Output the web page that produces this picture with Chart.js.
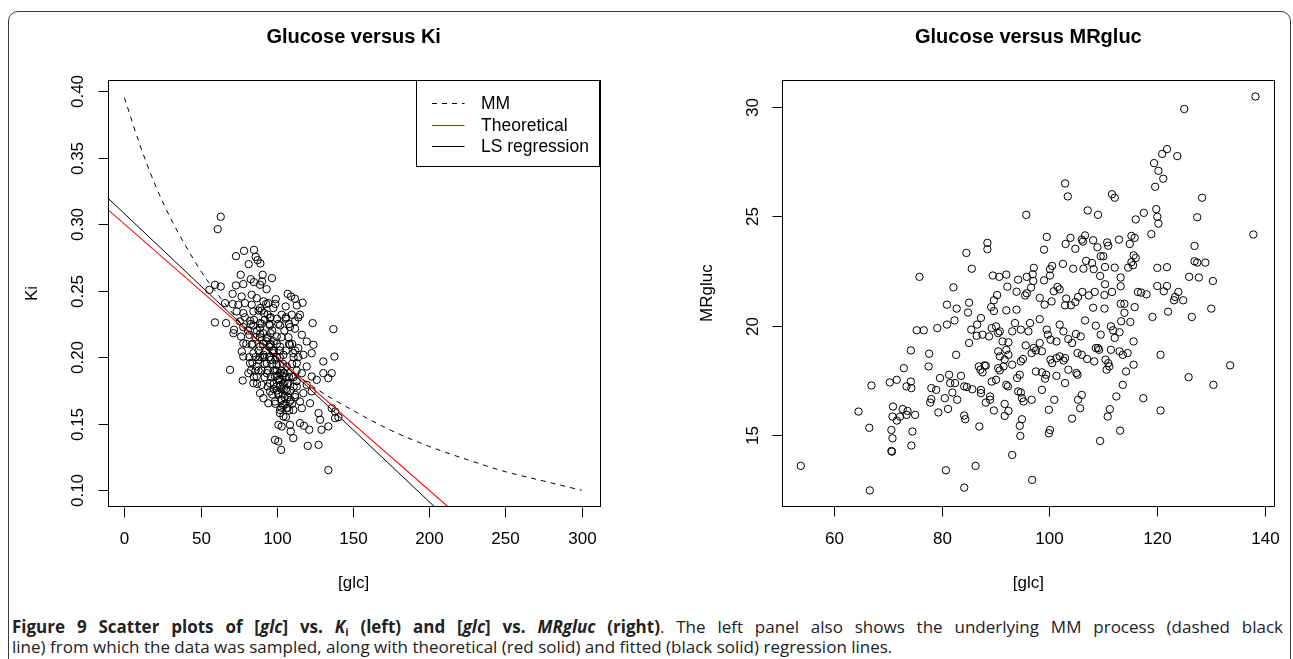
<!DOCTYPE html>
<html><head><meta charset="utf-8">
<script src="https://cdn.jsdelivr.net/npm/chart.js@4/dist/chart.umd.min.js"></script>
<style>
html,body{margin:0;padding:0;background:#fff;width:1293px;height:659px;overflow:hidden;position:relative;}
#frame{position:absolute;left:8px;top:11px;width:1281px;height:720px;border:1.5px solid #3a3a3a;border-radius:10px;}
#c1{position:absolute;left:0;top:0;}
#c2{position:absolute;left:640px;top:0;}
.cap{position:absolute;left:12px;width:1271px;font-family:'Open Sans',sans-serif;font-size:17px;line-height:20px;height:20px;color:#222;white-space:nowrap;}
#cap1{top:617px;text-align:justify;text-align-last:justify;white-space:normal;}
#cap2{top:637px;}
.cap b{font-weight:700;}
.cap sub{font-size:11px;line-height:0;vertical-align:-3px;}
</style></head><body>
<div id="frame"></div>
<canvas id="c1" width="640" height="612"></canvas>
<canvas id="c2" width="653" height="612"></canvas>
<div class="cap" id="cap1"><b>Figure 9 Scatter plots of [<i>glc</i>] vs. <i>K</i><sub>i</sub> (left) and [<i>glc</i>] vs. <i>MRgluc</i> (right)</b>. The left panel also shows the underlying MM process (dashed black</div>
<div class="cap" id="cap2">line) from which the data was sampled, along with theoretical (red solid) and fitted (black solid) regression lines.</div>
<script>
// ---------- DATA ----------
const leftTitle = 'Glucose versus Ki';
const rightTitle = 'Glucose versus MRgluc';
const xAxisTitle = '[glc]';
const leftYTitle = 'Ki';
const rightYTitle = 'MRgluc';

const leftXTicks = [0, 50, 100, 150, 200, 250, 300];
const leftYTicks = [0.10, 0.15, 0.20, 0.25, 0.30, 0.35, 0.40];
const leftYTickLabels = ['0.10', '0.15', '0.20', '0.25', '0.30', '0.35', '0.40'];
const rightXTicks = [60, 80, 100, 120, 140];
const rightYTicks = [15, 20, 25, 30];

const legendLabels = ['MM', 'Theoretical', 'LS regression'];

// MM process curve
const mmGlc = [0, 10, 20, 30, 40, 50, 60, 80, 100, 125, 150, 175, 200, 225, 250, 275, 300];
const mmKi  = [0.395, 0.360, 0.330, 0.305, 0.284, 0.265, 0.249, 0.221, 0.199, 0.177, 0.160, 0.145, 0.133, 0.123, 0.114, 0.107, 0.100];

// Theoretical (red) and LS regression (black) lines, end points across the panel
const theoGlc = [-12, 312];
const theoKi  = [0.312, -0.012];
const lsGlc   = [-12, 312];
const lsKi    = [0.3208, -0.0298];

// Scatter: [glc, Ki]
const leftPoints = [
[63.2,0.3055],[61.2,0.2962],[78.5,0.2799],[85.0,0.2806],[73.2,0.2759],[86.1,0.2754],[87.4,0.2729],[81.5,0.2699],[89.2,0.2704],
[76.3,0.2619],[90.7,0.2619],[96.8,0.2594],[82.9,0.2586],[85.0,0.2564],[90.3,0.2569],[89.0,0.2544],[73.2,0.2539],[78.0,0.2549],
[59.4,0.2544],[63.2,0.2531],[55.7,0.2506],[93.3,0.2511],[71.0,0.2476],[76.9,0.2456],[83.5,0.2469],[86.8,0.2444],[107.1,0.2476],
[109.3,0.2456],[111.9,0.2439],[99.3,0.2436],[91.2,0.2419],[94.4,0.2406],[116.9,0.2409],[66.0,0.2406],[71.0,0.2399],[74.8,0.2394],
[79.1,0.2406],[83.5,0.2394],[89.0,0.2369],[97.7,0.2369],[105.8,0.2381],[113.1,0.2389],[73.7,0.2344],[78.0,0.2331],[84.6,0.2344],
[91.6,0.2331],[103.2,0.2319],[109.8,0.2319],[115.2,0.2319],[100.1,0.2289],[95.5,0.2294],[105.8,0.2289],[111.9,0.2269],[114.1,0.2299],
[59.4,0.2261],[66.7,0.2256],[75.8,0.2269],[82.4,0.2274],[89.0,0.2256],[123.5,0.2256],[137.1,0.2211],[71.9,0.2206],[78.0,0.2226],
[84.6,0.2239],[95.5,0.2239],[102.1,0.2239],[108.6,0.2226],[111.9,0.2214],
[71.5,0.2180],[76.5,0.2155],[82.0,0.2168],[89.0,0.2175],[93.4,0.2143],[99.9,0.2155],[107.6,0.2150],[116.4,0.2168],[119.6,0.2118],
[124.0,0.2093],[78.0,0.2105],[83.5,0.2093],[89.0,0.2080],[95.5,0.2093],[102.1,0.2080],[108.6,0.2093],[114.1,0.2068],[77.0,0.2043],
[78.0,0.2005],[84.6,0.2030],[91.2,0.2018],[97.7,0.2030],[104.3,0.2018],[110.8,0.2030],[117.4,0.2018],[122.9,0.2030],[137.8,0.2005],
[130.5,0.1968],[69.3,0.1905],[77.6,0.1825],[82.4,0.1955],[86.8,0.1930],[93.4,0.1955],[99.9,0.1943],[106.5,0.1930],[113.1,0.1955],
[119.6,0.1930],[81.3,0.1880],[86.8,0.1855],[93.4,0.1880],[98.8,0.1855],[104.3,0.1880],[109.8,0.1855],[116.4,0.1880],[122.9,0.1855],
[126.2,0.1830],[130.5,0.1880],[136.0,0.1880],[133.8,0.1843],[84.6,0.1805],[90.1,0.1792],[95.5,0.1805],[102.1,0.1792],[107.6,0.1805],
[113.1,0.1780],[119.6,0.1792],[89.0,0.1730],[95.5,0.1743],[101.0,0.1730],[106.5,0.1743],[112.0,0.1717],[117.4,0.1730],[122.9,0.1743],
[91.2,0.1692],[94.4,0.1654],[98.8,0.1667],[103.2,0.1680],[108.6,0.1667],[115.2,0.1667],[121.8,0.1654],[102.1,0.1604],[106.5,0.1617],
[110.8,0.1604],[116.4,0.1617],[136.0,0.1617],[138.2,0.1592],[140.4,0.1549],[138.2,0.1542],[127.4,0.1580],[128.4,0.1530],[104.3,0.1555],
[101.0,0.1492],[103.2,0.1480],[108.6,0.1492],[115.2,0.1505],[117.8,0.1485],[121.3,0.1455],[129.3,0.1455],[133.8,0.1480],[109.1,0.1442],
[110.8,0.1392],[98.8,0.1379],[101.0,0.1367],[102.8,0.1304],[120.3,0.1334],[127.4,0.1342],[133.8,0.1152],
[100,0.175],[102,0.178],[104,0.172],[105,0.181],[103,0.168],[101,0.183],[106,0.176],[104,0.186],[99,0.19],[97,0.195],[95,0.2],
[93,0.205],[91,0.21],[89,0.215],[87,0.22],[92,0.195],[96,0.185],[98,0.205],[100,0.21],[94,0.215],[90,0.225],[88,0.19],[86,0.2],
[84,0.21],[83,0.19],[85,0.185],[95,0.225],[97,0.22],[102,0.2],[104,0.195],[106,0.205],[108,0.185],[110,0.195],[107,0.17],[109,0.175],
[103,0.162],[105,0.165],[99,0.165],[97,0.172],[94,0.178],[92,0.185],[91,0.2],[88,0.205],[86,0.215],[90,0.235],[93,0.24],[96,0.23],
[99,0.24],[101,0.225],[103,0.215],[105,0.22],[108,0.21],[111,0.2],[113,0.19],[111,0.185],[112,0.17],[110,0.165],[108,0.16],[106,0.155],
[98,0.18],[100,0.19],[102,0.188],[96,0.21],[94,0.19],[89,0.2],[87,0.18],[82,0.2],[80,0.21],[81,0.22],[79,0.23],
[101,0.172],[103,0.176],[105,0.17],[104,0.18],[102,0.183],[106,0.185],[100,0.186],[98,0.176],[105,0.188],[107,0.18],[103,0.19],
[99,0.198],[97,0.205],[95,0.208],[93,0.212],[91,0.218],[89,0.222],[92,0.228],[94,0.232],[96,0.218],[98,0.212],[100,0.2],[102,0.205],
[88,0.198],[86,0.19],[84,0.196],[90,0.19],[92,0.2],[96,0.198],[98,0.19],[100,0.178],[104,0.164],[102,0.158],[107,0.162],[109,0.168],
[111,0.178],[113,0.182],[112,0.205],[110,0.21],[114,0.2],[108,0.225],[106,0.23],[88,0.235],[85,0.228],[83,0.225]
];

// Scatter: [glc, MRgluc]
const rightPoints = [
[138.2,30.46],[125.0,29.89],[121.8,28.06],[120.9,27.84],[123.7,27.74],[119.4,27.42],[120.2,27.07],[121.1,26.71],[119.6,26.34],
[102.9,26.49],[103.4,25.90],[111.6,26.0],[112.1,25.84],[128.3,25.84],[95.7,25.06],[107.1,25.26],[109.0,25.06],[117.5,25.15],
[116.0,24.85],[119.8,25.32],[120.0,24.97],[120.2,24.66],[127.4,24.95],[118.9,24.18],[137.8,24.16],[99.5,24.05],[103.9,24.01],
[103.0,23.73],[104.8,23.51],[106.0,23.93],[106.6,24.12],[106.2,23.84],[108.1,23.9],[108.9,23.58],[110.7,23.8],[110.9,23.65],
[112.9,23.93],[115.2,24.1],[115.8,24.01],[114.9,23.73],[88.5,23.78],[88.5,23.49],[99.0,23.47],[84.6,23.32],[126.9,23.64],
[109.5,23.17],[110.0,23.17],[115.6,23.21],[116.0,23.09],[115.2,22.9],[115.5,22.76],[106.8,22.96],[107.9,22.86],[102.5,22.82],
[104.4,22.6],[100.5,22.73],[100.1,22.58],[97.1,22.64],[106.3,22.6],[108.2,22.58],[110.3,22.68],[112.1,22.65],[114.6,22.65],
[120.0,22.64],[121.8,22.67],[126.9,22.94],[127.4,22.88],[128.9,22.88],[85.6,22.6],[89.5,22.29],[90.7,22.23],[92.0,22.33],
[96.9,22.35],[95.8,22.23],[100.1,22.29],[99.0,22.07],[94.2,22.1],[109.4,22.27],[113.2,22.2],[125.9,22.23],[127.7,22.2],[130.3,22.04],
[75.9,22.23],[82.2,21.75],[92.2,21.78],[93.9,21.55],[96.6,21.74],[97.0,22.04],[100.8,21.57],[101.5,21.77],[101.9,21.66],[110.3,21.89],
[111.6,21.54],[113.2,21.8],[116.4,21.54],[117.0,21.51],[118.0,21.43],[120.0,21.81],[121.8,21.81],[121.2,21.57],[123.9,21.54],
[123.3,21.31],[123.1,21.16],[124.8,21.16],[122.0,20.64],[90.3,21.4],[89.7,21.16],[95.8,21.48],[95.5,21.38],[98.2,21.27],[103.1,21.24],
[105.3,21.31],[106.1,21.54],[107.3,21.38],[108.4,21.54],[110.2,21.4],[81.0,20.96],[85.1,21.05],[82.8,20.78],[84.9,20.6],[89.2,20.85],
[89.7,20.67],[92.0,20.7],[93.9,20.73],[99.1,20.96],[100.4,21.11],[102.9,20.93],[104.0,20.93],[104.8,21.08],[108.1,20.82],[110.2,20.78],
[113.2,21.0],[113.9,21.0],[113.9,20.59],[115.8,20.85],[130.0,20.78],
[119.1,20.40],[126.4,20.4],[75.4,19.79],[76.7,19.79],[79.2,19.89],[81.0,20.05],[82.4,20.24],[86.6,20.05],[87.3,20.35],[85.5,19.82],
[85.1,19.21],[86.5,19.54],[87.6,19.59],[88.8,19.51],[89.3,19.89],[90.1,19.97],[90.5,19.66],[90.8,19.74],[91.3,19.28],[92.4,19.24],
[93.1,19.74],[93.6,20.12],[94.7,19.82],[96.1,19.74],[96.4,20.12],[98.2,20.3],[99.5,19.82],[99.7,19.59],[100.2,19.36],[101.3,19.28],
[101.9,20.05],[102.6,19.74],[103.5,19.39],[104.2,19.21],[104.9,19.62],[105.8,19.51],[106.6,20.24],[108.6,20.0],[109.5,19.59],
[108.6,18.98],[109.0,18.98],[111.4,19.97],[111.8,19.79],[112.1,19.44],[113.0,19.7],[113.3,20.2],[115.0,20.17],[115.6,19.28],
[120.6,18.67],[74.3,18.87],[77.7,18.72],[82.7,18.67],[73.0,18.06],[77.6,18.14],[67.0,17.27],[70.4,17.41],[71.7,17.53],[74.3,17.45],
[73.5,17.23],[74.4,17.15],[79.7,17.61],[81.4,17.76],[78.1,17.15],[79.0,17.07],[78.1,16.65],[77.9,16.49],[80.6,16.69],[82.0,16.95],
[82.9,16.62],[84.2,17.23],[84.7,17.2],[85.7,17.1],[83.6,17.71],[81.6,17.38],[82.5,17.38],[87.2,17.99],[87.6,17.87],[88.0,18.19],
[88.2,18.17],[86.9,18.14],[87.3,17.07],[87.3,16.92],[89.0,16.77],[89.0,16.62],[88.2,16.49],[89.3,17.45],[90.1,17.53],[90.5,18.06],
[90.8,17.96],[91.5,18.14],[91.7,18.45],[90.5,18.83],[90.8,18.6],[92.0,18.9],[92.4,18.67],[93.1,18.22],[94.0,17.61],[94.5,17.76],
[92.0,17.3],[92.3,17.23],[91.7,16.43],[92.4,16.11],[91.7,15.88],[89.7,16.13],[94.2,17.0],[94.7,16.95],[94.9,16.69],[95.2,16.54],
[96.7,16.62],[94.5,15.43],[94.6,14.97],[94.9,15.73],[93.1,14.1],[96.8,12.96],[94.7,18.37],[95.1,18.48],[95.6,19.1],[96.7,18.75],
[97.5,18.87],[97.1,18.98],[98.2,19.21],[98.6,18.83],[97.5,17.91],[98.6,17.87],[99.4,17.76],[99.2,17.58],[98.6,17.07],[100.2,18.45],
[100.5,18.29],[101.3,18.52],[101.9,18.6],[102.6,18.41],[102.9,18.52],[103.5,17.99],[101.3,17.71],[102.9,17.38],[100.9,16.62],
[99.9,16.16],[100.1,15.24],[99.9,15.09],[104.2,15.76],[105.2,18.75],[106.0,18.67],[107.0,18.48],[105.0,17.84],[105.2,17.76],
[106.0,16.84],[105.3,16.62],[105.7,16.23],[108.3,18.37],[109.2,18.9],[110.4,18.45],[110.9,18.29],[110.6,17.99],[111.1,18.14],
[111.4,18.9],[113.0,18.83],[113.6,18.67],[114.5,18.75],[115.6,18.22],[114.2,17.91],[113.6,17.3],[112.4,16.77],[111.2,16.19],
[110.8,15.85],[113.1,15.21],[109.4,14.74],[117.4,16.69],[120.6,16.13],[125.8,17.65],[130.4,17.3],[133.5,18.19],[64.6,16.08],
[66.6,15.34],[66.7,12.48],[53.9,13.6],[71.0,16.31],[70.9,15.85],[70.7,15.24],[70.9,14.86],[70.7,14.28],[70.8,14.25],[71.7,15.67],
[72.3,15.85],[72.8,16.19],[73.7,16.11],[73.5,15.93],[75.1,15.93],[74.6,15.17],[74.4,14.53],[79.4,16.04],[81.2,16.2],[80.8,13.4],
[84.2,15.9],[84.4,15.73],[84.2,12.61],[86.3,13.6],[87.0,15.4]
];

// ---------- RENDERING ----------
Chart.defaults.font.family = '"Liberation Sans", Arial, sans-serif';
const RFONT = '"Liberation Sans", Arial, sans-serif';

const rStyle = {
  id: 'rStyle',
  afterDraw(chart, args, o) {
    const ctx = chart.ctx, a = chart.chartArea;
    const xs = chart.scales.x, ys = chart.scales.y;
    ctx.save();
    ctx.strokeStyle = '#000';
    ctx.fillStyle = '#000';
    ctx.lineWidth = 1;
    // legend (left panel)
    if (o.legend) {
      const L = o.legend;
      ctx.fillStyle = '#fff';
      ctx.fillRect(L.left, a.top, a.right - L.left, L.bottom - a.top);
      ctx.strokeStyle = '#000';
      ctx.strokeRect(Math.round(L.left) + 0.5, Math.round(a.top) + 0.5, Math.round(a.right - L.left), Math.round(L.bottom - a.top));
      ctx.font = '17.5px ' + RFONT;
      ctx.textAlign = 'left';
      ctx.textBaseline = 'middle';
      L.items.forEach((it, i) => {
        const ds = chart.data.datasets.find(d => d.label === it);
        const y = Math.round(L.rows[i]) + 0.5;
        ctx.strokeStyle = L.colors[i];
        ctx.lineWidth = ds.borderWidth || 1;
        ctx.setLineDash(ds.borderDash || []);
        ctx.beginPath(); ctx.moveTo(L.lineFrom, y); ctx.lineTo(L.lineTo, y); ctx.stroke();
        ctx.setLineDash([]);
        ctx.fillStyle = '#000';
        ctx.fillText(it, L.textX, y + 1);
      });
      ctx.strokeStyle = '#000';
      ctx.lineWidth = 1;
    }
    // plot box
    ctx.strokeRect(Math.round(a.left) + 0.5, Math.round(a.top) + 0.5, Math.round(a.right - a.left), Math.round(a.bottom - a.top));
    ctx.fillStyle = '#000';
    ctx.font = '17px ' + RFONT;
    // x axis ticks + labels
    ctx.textAlign = 'center'; ctx.textBaseline = 'middle';
    const xp = o.xTicks.map(v => Math.round(xs.getPixelForValue(v)) + 0.5);
    const by = Math.round(a.bottom) + 0.5;
    xp.forEach((px, i) => {
      ctx.beginPath(); ctx.moveTo(px, by); ctx.lineTo(px, by + 10); ctx.stroke();
      ctx.fillText(o.xLabels[i], px, a.bottom + 33);
    });
    // y axis ticks + rotated labels
    const yp = o.yTicks.map(v => Math.round(ys.getPixelForValue(v)) + 0.5);
    const lx = Math.round(a.left) + 0.5;
    yp.forEach((py, i) => {
      ctx.beginPath(); ctx.moveTo(lx, py); ctx.lineTo(lx - 10, py); ctx.stroke();
      ctx.save(); ctx.translate(a.left - 29, py); ctx.rotate(-Math.PI / 2);
      ctx.fillText(o.yLabels[i], 0, 0); ctx.restore();
    });
    // axis titles
    const cx = (a.left + a.right) / 2, cy = (a.top + a.bottom) / 2;
    ctx.fillText(o.xTitle, cx, a.bottom + 77);
    ctx.save(); ctx.translate(a.left - 75, cy); ctx.rotate(-Math.PI / 2);
    ctx.fillText(o.yTitle, 0, 0); ctx.restore();
    // main title
    ctx.font = 'bold 20px ' + RFONT;
    ctx.fillText(o.title, cx, 37);
    ctx.restore();
  }
};

function pts(xsArr, ysArr) { return xsArr.map((x, i) => ({ x: x, y: ysArr[i] })); }
function pairPts(arr) { return arr.map(p => ({ x: p[0], y: p[1] })); }

const pointStyle = {
  showLine: false, pointStyle: 'circle', pointRadius: 3.7, pointHoverRadius: 3.7,
  pointBorderColor: '#000', pointBackgroundColor: 'rgba(0,0,0,0)', pointBorderWidth: 1
};
const hiddenAxis = { ticks: { display: false }, grid: { display: false, drawTicks: false, tickLength: 0 }, border: { display: false }, title: { display: false } };

new Chart(document.getElementById('c1'), {
  type: 'scatter',
  data: {
    datasets: [
      { label: 'LS regression', data: pts(lsGlc, lsKi), showLine: true, borderColor: '#000000', borderWidth: 1, pointRadius: 0, fill: false },
      { label: 'Theoretical', data: pts(theoGlc, theoKi), showLine: true, borderColor: '#ff0000', borderWidth: 1.1, pointRadius: 0, fill: false },
      { label: 'MM', data: pts(mmGlc, mmKi), showLine: true, borderColor: '#000000', borderWidth: 1, borderDash: [5, 5], pointRadius: 0, fill: false, cubicInterpolationMode: 'monotone' },
      Object.assign({ label: 'data', data: pairPts(leftPoints) }, pointStyle)
    ]
  },
  options: {
    responsive: false, animation: false, devicePixelRatio: 1,
    layout: { padding: { left: 107.8, right: 40.5, top: 80.3, bottom: 105.3 } },
    scales: {
      x: Object.assign({ type: 'linear', min: -10.9, max: 311.7 }, hiddenAxis),
      y: Object.assign({ type: 'linear', min: 0.0877, max: 0.4080 }, hiddenAxis)
    },
    plugins: {
      legend: { display: false }, tooltip: { enabled: false },
      rStyle: {
        title: leftTitle, xTitle: xAxisTitle, yTitle: leftYTitle,
        xTicks: leftXTicks, xLabels: leftXTicks.map(String),
        yTicks: leftYTicks, yLabels: leftYTickLabels,
        legend: { items: legendLabels, colors: ['#000000', '#ff0000', '#000000'], left: 416.3, bottom: 166.7, rows: [102.7, 124.7, 146.2], lineFrom: 432, lineTo: 464.5, textX: 481 }
      }
    }
  },
  plugins: [rStyle]
});

new Chart(document.getElementById('c2'), {
  type: 'scatter',
  data: { datasets: [ Object.assign({ label: 'data', data: pairPts(rightPoints) }, pointStyle) ] },
  options: {
    responsive: false, animation: false, devicePixelRatio: 1,
    layout: { padding: { left: 142.4, right: 18.7, top: 80.3, bottom: 106 } },
    scales: {
      x: Object.assign({ type: 'linear', min: 50.49, max: 141.69 }, hiddenAxis),
      y: Object.assign({ type: 'linear', min: 11.77, max: 31.20 }, hiddenAxis)
    },
    plugins: {
      legend: { display: false }, tooltip: { enabled: false },
      rStyle: {
        title: rightTitle, xTitle: xAxisTitle, yTitle: rightYTitle,
        xTicks: rightXTicks, xLabels: rightXTicks.map(String),
        yTicks: rightYTicks, yLabels: rightYTicks.map(String)
      }
    }
  },
  plugins: [rStyle]
});
</script>
</body></html>
